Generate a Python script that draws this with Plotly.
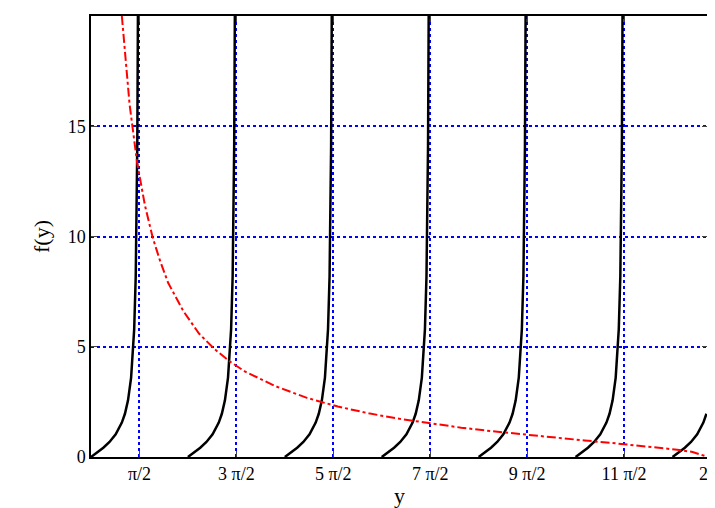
import math
import plotly.graph_objects as go

# one branch of the black curve: offsets from the branch start and values
branch_dx = [0, 0.2, 0.4, 0.6, 0.8, 1.0, 1.1, 1.2, 1.3, 1.4, 1.45, 1.5, 1.521]
branch_f = [0, 0.2, 0.42, 0.68, 1.03, 1.56, 1.96, 2.57, 3.6, 5.8, 8.2, 14.1, 20]
branch_starts = [0, math.pi, 2 * math.pi, 3 * math.pi, 4 * math.pi, 5 * math.pi, 6 * math.pi]

# red curve
red_y = [1.0, 1.25, 1.5, 1.75, 2, 2.25, 2.5, 3, 3.5, 4, 4.5, 5, 6, 7, 8, 9, 10, 11, 12, 13, 14, 15, 16, 17, 18, 19, 19.5, 20]
red_f = [20, 16, 13.3, 11.4, 9.95, 8.85, 7.9, 6.6, 5.6, 4.9, 4.33, 3.87, 3.2, 2.68, 2.29, 1.98, 1.73, 1.52, 1.33,
         1.17, 1.02, 0.88, 0.75, 0.62, 0.48, 0.33, 0.23, 0]

tick_vals = [k * math.pi / 2 for k in (1, 3, 5, 7, 9, 11)] + [20]
tick_text = ["π/2", "3 π/2", "5 π/2", "7 π/2", "9 π/2", "11 π/2", "20"]

fig = go.Figure()
for s in branch_starts:
    xs = [s + d for d in branch_dx if s + d <= 20]
    fs = branch_f[:len(xs)]
    fig.add_scatter(x=xs, y=fs, mode="lines", line=dict(color="black", width=2.5), showlegend=False)
fig.add_scatter(x=red_y, y=red_f, mode="lines", line=dict(color="red", width=2, dash="dashdot"),
                showlegend=False)

font = dict(family="Liberation Serif", size=18, color="black")
fig.update_layout(
    width=715, height=508, plot_bgcolor="white", paper_bgcolor="white",
    margin=dict(l=83, r=15, t=8, b=59, autoexpand=False), font=font,
    xaxis=dict(range=[0, 20], tickvals=tick_vals, ticktext=tick_text, showgrid=True,
               gridcolor="blue", griddash="dot", gridwidth=2, ticks="inside", ticklen=6,
               mirror="ticks", showline=True, linecolor="black", linewidth=1.5, zeroline=False,
               automargin=False, title=dict(text="y", standoff=4)),
    yaxis=dict(range=[0, 20], tickvals=[0, 5, 10, 15, 20], showgrid=True, gridcolor="blue",
               griddash="dot", gridwidth=2, ticks="inside", ticklen=6, mirror="ticks",
               showline=True, linecolor="black", linewidth=1.5, zeroline=False,
               automargin=False, title=dict(text="f(y)", standoff=12)),
)
fig.write_html("out.html")
